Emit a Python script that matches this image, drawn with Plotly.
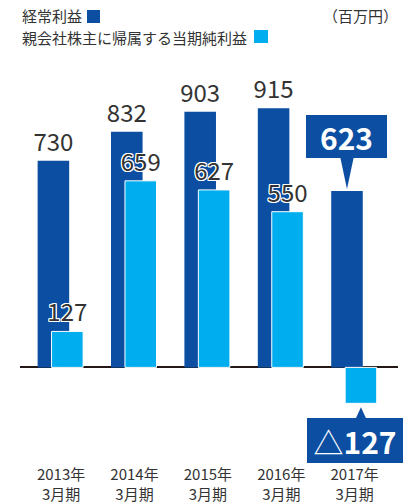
import plotly.graph_objects as go

# ---- data ----
years = ["2013年<br>3月期", "2014年<br>3月期", "2015年<br>3月期", "2016年<br>3月期", "2017年<br>3月期"]
ordinary_profit = [730, 832, 903, 915, 623]
net_profit = [127, 659, 627, 550, -127]
ordinary_labels = ["730", "832", "903", "915", ""]
net_labels = ["127", "659", "627", "550", ""]
callout_ordinary = "<b>623</b>"
callout_net = "△<b>127</b>"
legend_ordinary = "経常利益"
legend_net = "親会社株主に帰属する当期純利益"
unit_label = "（百万円）"

# ---- style / geometry ----
DARK = "#0B4EA2"
LIGHT = "#00AEEF"
TXT = "#333333"
FONT = "Noto Sans CJK JP"
W = 0.43
OFF_D = -0.32
OFF_L = -0.13
Y0, Y1 = -200, 1100
WID, HGT = 403, 504
L, R, T, B = 20, 5, 56, 80
PW = WID - L - R
PH = HGT - T - B
upp = (Y1 - Y0) / PH  # data units per pixel
xpp = (4.59 + 0.56) / PW

def fx(px):
    return (px - L) / PW

def fy(py):
    return 1 - (py - T) / PH

halo = ("1px 1px 0 #fff, -1px -1px 0 #fff, 1px -1px 0 #fff, -1px 1px 0 #fff, "
        "0 1px 0 #fff, 0 -1px 0 #fff, 1px 0 0 #fff, -1px 0 0 #fff")

fig = go.Figure()
fig.add_bar(x=years, y=ordinary_profit, width=W, offset=OFF_D,
            marker=dict(color=DARK, line=dict(width=0)),
            text=ordinary_labels, textposition="outside",
            textfont=dict(size=24, color=TXT, family=FONT),
            constraintext="none", cliponaxis=False, hoverinfo="skip")
fig.add_bar(x=years, y=net_profit, width=W, offset=OFF_L,
            marker=dict(color=LIGHT, line=dict(color="white", width=1)),
            text=net_labels, textposition="outside",
            textfont=dict(size=24, color=TXT, family=FONT, shadow=halo),
            constraintext="none", cliponaxis=False, hoverinfo="skip")

last = len(years) - 1
xd = last + OFF_D + W / 2
xl = last + OFF_L + W / 2
vd = ordinary_profit[last]
vl = net_profit[last]

annotations = [
    dict(x=xd, y=vd, xref="x", yref="y", yanchor="bottom", yshift=33,
         text=callout_ordinary, showarrow=False, bgcolor=DARK,
         width=81, height=43, borderpad=0, borderwidth=0,
         font=dict(size=30, color="white", family=FONT)),
    dict(x=last, y=vl, xref="x", yref="y", yanchor="top", yshift=-15,
         text=callout_net, showarrow=False, bgcolor=DARK,
         width=96, height=45, borderpad=0, borderwidth=0,
         font=dict(size=30, color="white", family=FONT)),
    dict(x=fx(20), y=fy(15), xref="paper", yref="paper", xanchor="left", yanchor="middle",
         text=legend_ordinary, showarrow=False, font=dict(size=15, color=TXT, family=FONT)),
    dict(x=fx(20), y=fy(37), xref="paper", yref="paper", xanchor="left", yanchor="middle",
         text=legend_net, showarrow=False, font=dict(size=15, color=TXT, family=FONT)),
    dict(x=fx(400), y=fy(15), xref="paper", yref="paper", xanchor="right", yanchor="middle",
         text=unit_label, showarrow=False, font=dict(size=15, color=TXT, family=FONT)),
]

shapes = [
    dict(type="path", xref="x", yref="y", fillcolor=DARK, line=dict(width=0),
         path=f"M {xd - 7 * xpp},{vd + 35 * upp} L {xd + 7 * xpp},{vd + 35 * upp} L {xd},{vd + 2 * upp} Z"),
    dict(type="path", xref="x", yref="y", fillcolor=DARK, line=dict(width=0),
         path=f"M {xl - 6 * xpp},{vl - 17 * upp} L {xl + 6 * xpp},{vl - 17 * upp} L {xl},{vl - 4 * upp} Z"),
    dict(type="rect", xref="paper", yref="paper", fillcolor=DARK, line=dict(width=0),
         x0=fx(87), x1=fx(100), y0=fy(23), y1=fy(10)),
    dict(type="rect", xref="paper", yref="paper", fillcolor=LIGHT, line=dict(width=0),
         x0=fx(254), x1=fx(268), y0=fy(43), y1=fy(30)),
]

fig.update_layout(
    width=WID, height=HGT, margin=dict(l=L, r=R, t=T, b=B, autoexpand=False),
    barmode="overlay", showlegend=False,
    paper_bgcolor="white", plot_bgcolor="white",
    font=dict(family=FONT, color=TXT),
    annotations=annotations, shapes=shapes,
    xaxis=dict(range=[-0.56, 4.59], showgrid=False, zeroline=False, showline=False,
               ticks="", tickfont=dict(size=15, color=TXT, family=FONT),
               ticklabelstandoff=40, automargin=False, fixedrange=True),
    yaxis=dict(range=[Y0, Y1], showgrid=False, showticklabels=False, ticks="",
               automargin=False,
               zeroline=True, zerolinecolor="#231815", zerolinewidth=1.5, fixedrange=True),
)

fig.write_html("out.html", config={"displayModeBar": False},
               post_script="document.body.style.margin='0px';document.body.style.overflow='hidden';")
